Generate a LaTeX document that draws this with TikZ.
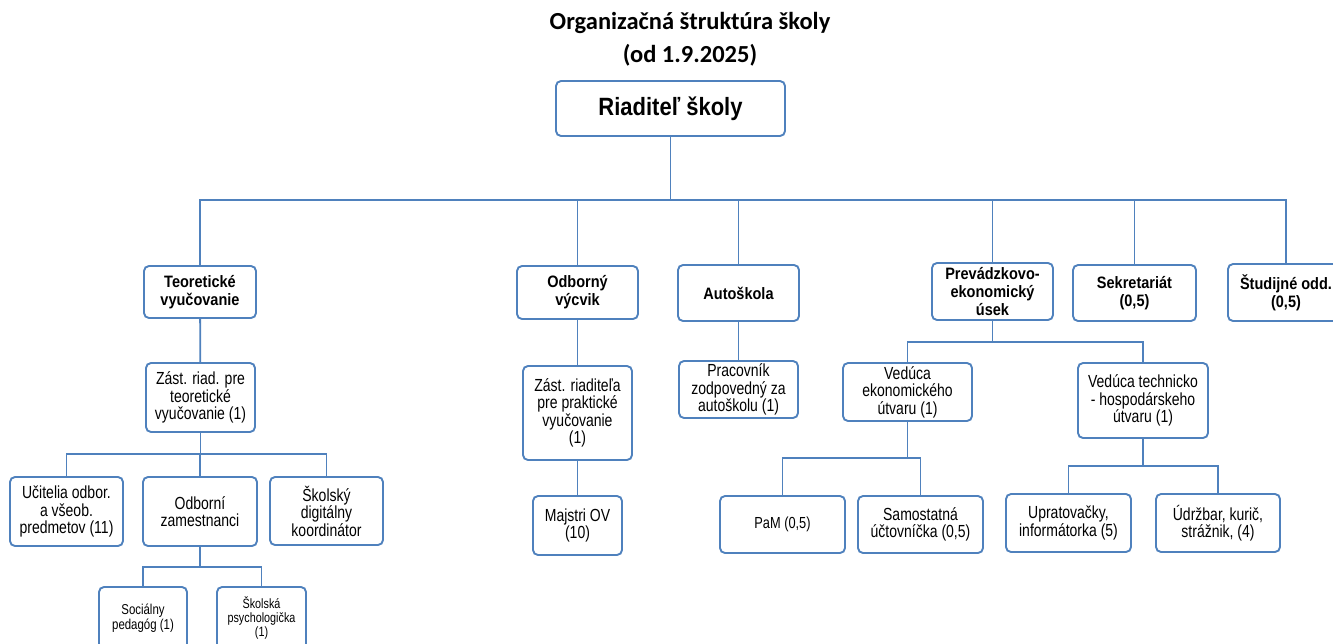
\documentclass[tikz,border=0pt]{standalone}
\usepackage{fontspec}
\setmainfont[FakeStretch=0.8]{Liberation Sans}
\newfontfamily\headfont[FakeStretch=0.88]{Liberation Sans}
\newfontfamily\titlefont{Carlito}
\usepackage{tikz}
\usetikzlibrary{positioning, calc}
\definecolor{orgblue}{RGB}{79, 129, 189}

\begin{document}
\begin{tikzpicture}[
    x=1pt, y=-1pt,
    unit/.style={rectangle, rounded corners=5pt, draw=orgblue, line width=1.9pt, fill=white, inner sep=0pt, align=center, font=\fontsize{17.5}{17.5}\selectfont},
    head/.style={unit, font=\headfont\fontsize{16.5}{18}\selectfont\bfseries},
    link/.style={orgblue, line width=1.8pt}
]
    \useasboundingbox (0,0) rectangle (1333,643);

    \node[font=\titlefont\fontsize{24.5}{33}\selectfont\bfseries, align=center] (title) at (690,39) {Organizačná štruktúra školy\\(od 1.9.2025)};

    \node[unit, minimum width=229, minimum height=55, font=\headfont\fontsize{25}{28}\selectfont\bfseries] (riaditel) at (670.5,108.5) {Riaditeľ školy};

    \node[head, minimum width=112, minimum height=52] (teor) at (200,292) {Teoretické\\vyučovanie};
    \node[head, minimum width=121, minimum height=53] (odb) at (577.5,292.5) {Odborný\\výcvik};
    \node[head, minimum width=121, minimum height=56] (auto) at (738.5,293) {Autoškola};
    \node[head, minimum width=121, minimum height=57] (prev) at (992.5,291.5) {Prevádzkovo-\\ekonomický\\úsek};
    \node[head, minimum width=123, minimum height=56] (sekr) at (1134.5,293) {Sekretariát\\(0,5)};
    \node[head, minimum width=116, minimum height=57] (stud) at (1286,292.5) {Študijné odd.\\(0,5)};

    \node[unit, minimum width=109, minimum height=69] (zastT) at (200.5,397.5) {Zást. riad. pre\\teoretické\\vyučovanie (1)};
    \node[unit, minimum width=113, minimum height=69] (ucit) at (66.5,511.5) {Učitelia odbor.\\a všeob.\\predmetov (11)};
    \node[unit, minimum width=114, minimum height=69] (odbz) at (200,511.5) {Odborní\\zamestnanci};
    \node[unit, minimum width=113, minimum height=68] (skdig) at (326.5,511) {Školský\\digitálny\\koordinátor};
    \node[unit, minimum width=88, minimum height=62, font=\fontsize{14.3}{15}\selectfont] (soc) at (143,618) {Sociálny\\pedagóg (1)};
    \node[unit, minimum width=89, minimum height=62, font=\fontsize{13.5}{14}\selectfont] (psych) at (261.5,618) {Školská\\psychologička\\(1)};

    \node[unit, minimum width=109, minimum height=94] (zastP) at (577.5,413) {Zást. riaditeľa\\pre praktické\\vyučovanie\\(1)};
    \node[unit, minimum width=89, minimum height=59] (majstri) at (577.5,525.5) {Majstri OV\\(10)};

    \node[unit, minimum width=119, minimum height=57] (prac) at (738.5,389.5) {Pracovník\\zodpovedný za\\autoškolu (1)};

    \node[unit, minimum width=129, minimum height=58] (vedE) at (907.5,392) {Vedúca\\ekonomického\\útvaru (1)};
    \node[unit, minimum width=130, minimum height=75] (vedT) at (1143,400.5) {Vedúca technicko\\- hospodárskeho\\útvaru (1)};
    \node[unit, minimum width=125, minimum height=57, font=\fontsize{16}{17}\selectfont] (pam) at (782.5,524.5) {PaM (0,5)};
    \node[unit, minimum width=125, minimum height=57] (samo) at (920.5,524.5) {Samostatná\\účtovníčka (0,5)};
    \node[unit, minimum width=125, minimum height=58] (uprat) at (1068.5,523) {Upratovačky,\\informátorka (5)};
    \node[unit, minimum width=124, minimum height=58] (udrz) at (1218,523) {Údržbar, kurič,\\strážnik, (4)};

    \coordinate (busR) at (670.5,200);
    \coordinate (busT) at (200.5,454);
    \coordinate (busZ) at (200,567);
    \coordinate (busP) at (992.5,342);
    \coordinate (busE) at (907.5,458);
    \coordinate (busH) at (1143,466);

    \draw[link] (riaditel.south) -- (busR);
    \foreach \n in {teor, odb, auto, prev, sekr, stud}
        \draw[link] (busR) -| (\n.north);
    \draw[link] (teor) -- (zastT);
    \draw[link] (zastT.south) -- (busT);
    \foreach \n in {ucit, odbz, skdig}
        \draw[link] (busT) -| (\n.north);
    \draw[link] (odbz.south) -- (busZ);
    \foreach \n in {soc, psych}
        \draw[link] (busZ) -| (\n.north);
    \draw[link] (odb) -- (zastP);
    \draw[link] (zastP) -- (majstri);
    \draw[link] (auto) -- (prac);
    \draw[link] (prev.south) -- (busP);
    \foreach \n in {vedE, vedT}
        \draw[link] (busP) -| (\n.north);
    \draw[link] (vedE.south) -- (busE);
    \foreach \n in {pam, samo}
        \draw[link] (busE) -| (\n.north);
    \draw[link] (vedT.south) -- (busH);
    \foreach \n in {uprat, udrz}
        \draw[link] (busH) -| (\n.north);
\end{tikzpicture}
\end{document}
